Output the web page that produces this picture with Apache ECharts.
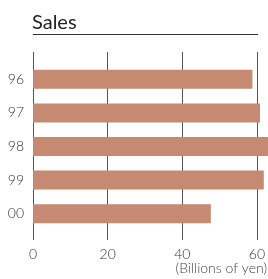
<!DOCTYPE html>
<html><head><meta charset="utf-8">
<script src="https://cdn.jsdelivr.net/npm/echarts@6/dist/echarts.min.js"></script>
<style>html,body{margin:0;padding:0;background:#fff}#c{width:268px;height:279px}</style>
</head><body><div id="c"></div>
<script>
const categories = ['96', '97', '98', '99', '00'];
const sales = [58, 60, 62.5, 61, 47];
const xTicks = [0, 20, 40, 60];
const titleText = 'Sales';
const unitText = '(Billions of yen)';

const chart = echarts.init(document.getElementById('c'), null, {renderer: 'canvas'});
const FONT = 'Lato, "Open Sans", sans-serif';
chart.setOption({
  animation: false,
  backgroundColor: '#fff',
  title: {
    text: titleText, left: 27, top: 8,
    textStyle: {fontFamily: FONT, fontSize: 20, fontWeight: 'normal', color: '#222'}
  },
  graphic: [
    {type: 'line', shape: {x1: 33, y1: 34.5, x2: 258, y2: 34.5}, style: {stroke: '#333', lineWidth: 1}},
    {type: 'text', right: 1, top: 261, style: {text: unitText, font: '300 14px ' + FONT, fill: '#444'}}
  ],
  grid: [
    {left: 33, right: 8, top: 52, bottom: 39},
    {left: 33, right: 8, top: 62.5, bottom: 48.5}
  ],
  xAxis: [
    {
      gridIndex: 0, type: 'value', min: xTicks[0], max: xTicks[xTicks.length - 1], interval: 20,
      axisLine: {show: false}, axisTick: {show: false},
      splitLine: {show: true, lineStyle: {color: '#555', width: 1}},
      axisLabel: {margin: 7, fontFamily: FONT, fontSize: 14, fontWeight: 300, color: '#333'}
    },
    {
      gridIndex: 1, type: 'value', min: xTicks[0], max: xTicks[xTicks.length - 1],
      show: false, splitLine: {show: false}
    }
  ],
  yAxis: [
    {gridIndex: 0, type: 'value', show: false, splitLine: {show: false}},
    {
      gridIndex: 1, type: 'category', data: categories, inverse: true,
      axisLine: {show: false}, axisTick: {show: false},
      axisLabel: {margin: 9, fontFamily: FONT, fontSize: 14, fontWeight: 300, color: '#333'}
    }
  ],
  series: [{
    type: 'bar', xAxisIndex: 1, yAxisIndex: 1, data: sales, barWidth: 19, clip: false,
    itemStyle: {color: '#C68A72'}, z: 5
  }]
});
</script></body></html>
